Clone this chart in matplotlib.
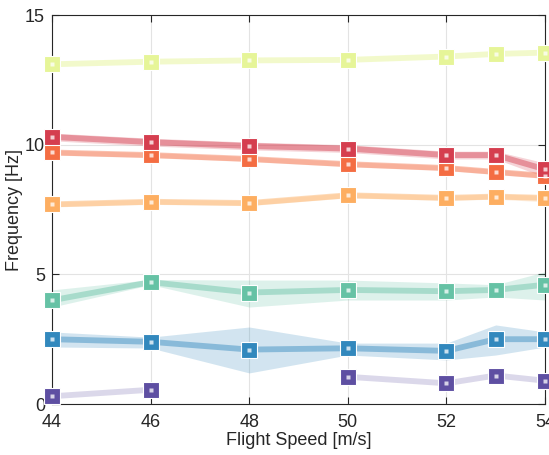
import numpy as np
import matplotlib
matplotlib.use('Agg')
import matplotlib.pyplot as plt

plt.rcParams['font.family'] = ['Liberation Sans', 'DejaVu Sans']

# flight speeds [m/s]
speed = [44, 46, 48, 50, 52, 53, 54]

# mode frequencies [Hz] with lower / upper band limits
f_purple = [0.3, 0.55, np.nan, 1.05, 0.8, 1.1, 0.9]
f_blue = [2.5, 2.4, 2.1, 2.15, 2.05, 2.5, 2.5]
f_blue_lo = [2.2, 2.16, 1.2, 1.89, 1.7, 1.89, 2.2]
f_blue_hi = [2.78, 2.58, 2.97, 2.35, 2.35, 3.05, 2.78]
f_green = [4.0, 4.7, 4.3, 4.4, 4.35, 4.4, 4.6]
f_green_lo = [3.74, 4.6, 3.74, 4.01, 4.01, 4.13, 4.01]
f_green_hi = [4.4, 4.8, 4.78, 4.78, 4.67, 4.6, 5.1]
f_lorange = [7.7, 7.8, 7.75, 8.05, 7.95, 8.0, 7.95]
f_lorange_lo = [7.6, 7.7, 7.65, 7.95, 7.85, 7.9, 7.8]
f_lorange_hi = [7.8, 7.9, 7.85, 8.15, 8.05, 8.1, 8.05]
f_orange = [9.7, 9.6, 9.45, 9.25, 9.1, 8.95, 8.8]
f_orange_lo = [9.6, 9.5, 9.35, 9.15, 9.0, 8.85, 8.7]
f_orange_hi = [9.8, 9.7, 9.55, 9.35, 9.2, 9.05, 8.9]
f_red = [10.3, 10.1, 9.95, 9.85, 9.6, 9.6, 9.05]
f_red_lo = [10.15, 9.95, 9.8, 9.7, 9.45, 9.45, 8.75]
f_red_hi = [10.45, 10.25, 10.1, 10.0, 9.75, 9.75, 9.3]
f_yellow = [13.1, 13.2, 13.25, 13.27, 13.4, 13.5, 13.55]

# (values, band low, band high, colour, line alpha)
modes = [
    (f_purple, None, None, '#5e4fa2', 0.22),
    (f_blue, f_blue_lo, f_blue_hi, '#3288bd', 0.45),
    (f_green, f_green_lo, f_green_hi, '#66c2a5', 0.45),
    (f_lorange, f_lorange_lo, f_lorange_hi, '#fdae61', 0.45),
    (f_orange, f_orange_lo, f_orange_hi, '#f46d43', 0.4),
    (f_red, f_red_lo, f_red_hi, '#d53e4f', 0.45),
    (f_yellow, None, None, '#e6f598', 0.5),
]

fig = plt.figure(figsize=(5.49, 4.55), dpi=100)
ax = fig.add_axes([0.0947, 0.112, 0.898, 0.855])

for f, lo, hi, c, a in modes:
    if lo is not None:
        ax.fill_between(speed, lo, hi, color=c, alpha=0.22, lw=0)
    ax.plot(speed, f, color=c, lw=4.2, alpha=a, solid_capstyle='butt')
    ax.plot(speed, f, ls='none', marker='s', ms=11, mfc=c, mec='white',
            mew=0.8, clip_on=False, zorder=5)
    ax.plot(speed, f, ls='none', marker='s', ms=2.3, mfc='white', mec='none',
            alpha=0.75, clip_on=False, zorder=6)

ax.set_xlim(44, 54)
ax.set_ylim(0, 15)
ax.set_xticks([44, 46, 48, 50, 52, 54])
ax.set_yticks([0, 5, 10, 15])
ax.grid(True, color='#e3e3e3', lw=0.8)
ax.set_axisbelow(True)
ax.tick_params(direction='in', top=True, right=True, labelsize=13,
               color='#262626', labelcolor='#262626', length=5)
ax.tick_params(axis='x', pad=7)
ax.tick_params(axis='y', pad=5)
for s in ax.spines.values():
    s.set_color('#262626')
    s.set_linewidth(0.8)

ax.set_xlabel('Flight Speed [m/s]', fontsize=13, color='#262626')
ax.set_ylabel('Frequency [Hz]', fontsize=13, color='#262626')
ax.xaxis.set_label_coords(0.5, -0.072)
ax.yaxis.set_label_coords(-0.058, 0.5)

fig.savefig('out.png', dpi=100)
